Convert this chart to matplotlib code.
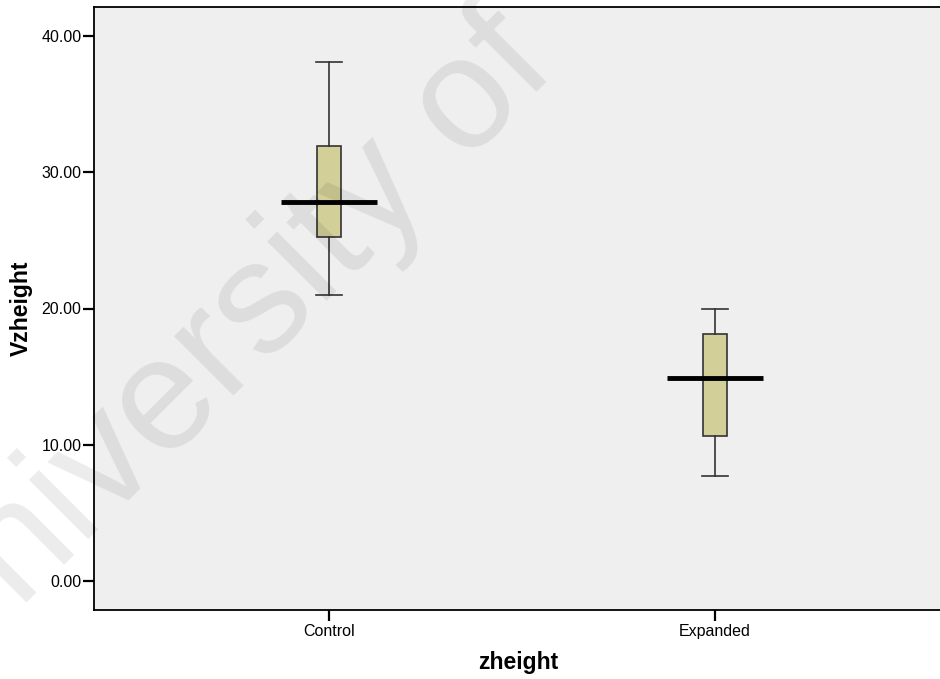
import numpy as np
import matplotlib
matplotlib.use("Agg")
import matplotlib.pyplot as plt

plt.rcParams['font.family'] = ['Liberation Sans', 'DejaVu Sans']

groups = ["Control", "Expanded"]
whisker_low = [21.0, 7.7]
q1 = [25.25, 10.65]
medians = [27.8, 14.9]
q3 = [31.9, 18.1]
whisker_high = [38.1, 20.0]
yticks = [0, 10, 20, 30, 40]

stats = [dict(whislo=lo, q1=a, med=m, q3=b, whishi=hi, label=g)
         for g, lo, a, m, b, hi in zip(groups, whisker_low, q1, medians, q3, whisker_high)]

fig = plt.figure(figsize=(9.4, 6.79), dpi=100)
ax = fig.add_axes([94 / 940, 1 - 610 / 679, 848 / 940, 603 / 679])
ax.set_facecolor("#efefef")

pos = np.arange(len(groups))
ax.bxp(stats, positions=pos, widths=0.062, patch_artist=True, showfliers=False,
       boxprops=dict(facecolor="#d3cf98", edgecolor="#333333", linewidth=1.2),
       whiskerprops=dict(color="#333333", linewidth=1.2),
       capprops=dict(color="#333333", linewidth=1.2),
       capwidths=0.066,
       medianprops=dict(linewidth=0))
# wide median bars
ax.hlines(medians, pos - 0.125, pos + 0.125, colors="black", linewidth=3.5, zorder=5)

ax.set_xlim(-0.609, 1.588)
ax.set_ylim(-2.13, 42.13)
ax.set_yticks(yticks)
ax.set_yticklabels([f"{v:.2f}" for v in yticks], fontsize=11.5)
ax.set_xticks(pos)
ax.set_xticklabels(groups, fontsize=11.5)
ax.tick_params(axis="both", direction="out", length=8, width=1.6, color="black")
ax.tick_params(axis="y", pad=1)
ax.tick_params(axis="x", pad=2)
for s in ["left", "bottom", "top"]:
    ax.spines[s].set_linewidth(1.3)
ax.spines["right"].set_visible(False)

ax.set_ylabel("Vzheight", fontsize=16.5, fontweight="bold", labelpad=6)
ax.set_xlabel("zheight", fontsize=16.5, fontweight="bold", labelpad=9)

# faint watermark on top of the plot
fig.text(-0.066, -0.019, "University of", fontsize=115, color="black", alpha=0.08,
         rotation=45, rotation_mode="anchor", ha="left", va="baseline", zorder=10)

fig.savefig("out.png", dpi=100)
